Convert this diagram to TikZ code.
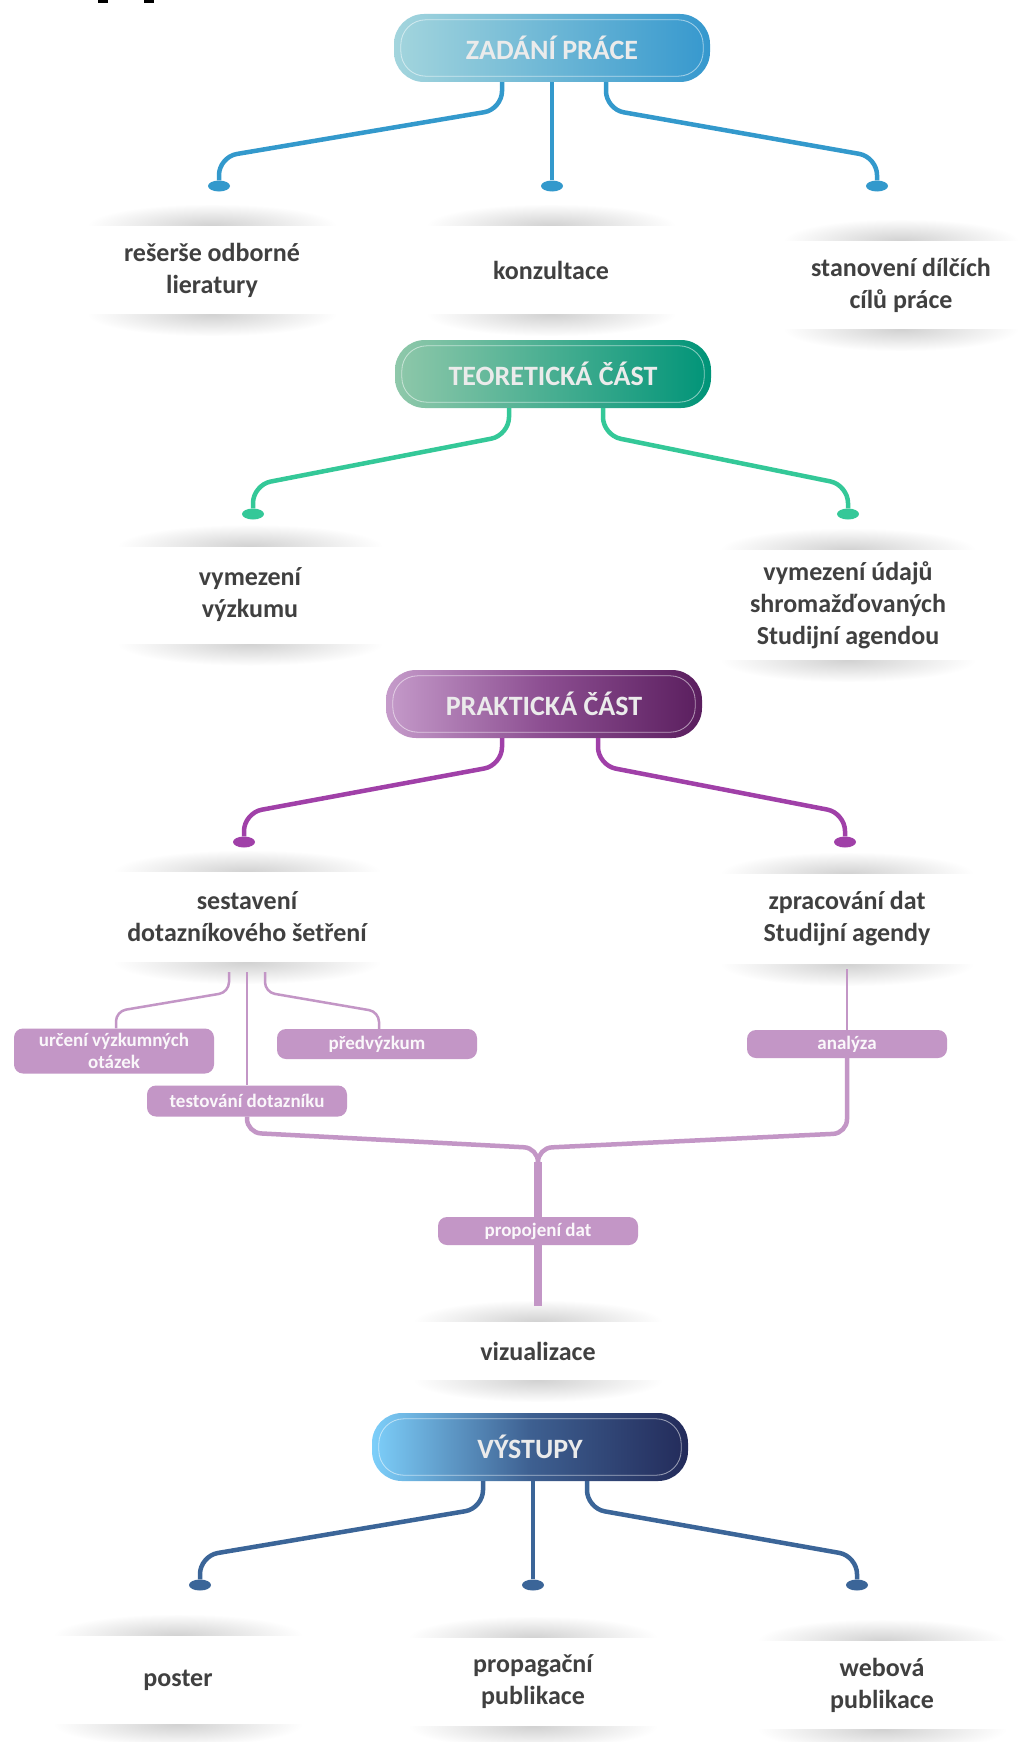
\documentclass[tikz,border=0pt]{standalone}
\usepackage{fontspec}
\setmainfont{Carlito}
\usetikzlibrary{shapes.geometric,calc,positioning,backgrounds}
\definecolor{zadA}{RGB}{163,213,221}
\definecolor{zadB}{RGB}{54,152,206}
\definecolor{zadL}{RGB}{51,153,204}
\definecolor{teoA}{RGB}{143,200,170}
\definecolor{teoB}{RGB}{0,148,120}
\definecolor{teoL}{RGB}{52,200,152}
\definecolor{praA}{RGB}{197,155,202}
\definecolor{praM}{RGB}{140,78,145}
\definecolor{praB}{RGB}{90,30,94}
\definecolor{praL}{RGB}{160,64,168}
\definecolor{vysA}{RGB}{125,207,250}
\definecolor{vysM}{RGB}{62,96,145}
\definecolor{vysB}{RGB}{35,43,90}
\definecolor{vysL}{RGB}{59,101,152}
\definecolor{subP}{RGB}{195,150,198}
\definecolor{txt}{RGB}{64,64,64}
\pgfdeclareradialshading{cardshadow}{\pgfpoint{0bp}{0bp}}{color(0bp)=(black!18); color(10bp)=(black!11); color(25bp)=(white); color(50bp)=(white)}

\begin{document}
\begin{tikzpicture}[x=1pt, y=-1pt,
  phase/.style={rounded corners=30, minimum width=316, minimum height=68, inner sep=0, text=white!92!black, font=\fontsize{28}{34}\selectfont\bfseries},
  card/.style={fill=white, minimum width=250, minimum height=88, inner sep=0, align=center, text=txt, font=\fontsize{26}{32}\selectfont\bfseries},
  task/.style={fill=subP, rounded corners=9, minimum width=200, minimum height=30, inner sep=0, align=center, text=white!92!subP, font=\fontsize{19}{22}\selectfont\bfseries},
  knob/.style={ellipse, minimum width=22, minimum height=11, inner sep=0},
  stem/.style={line width=4.5, rounded corners=18},
  twig/.style={subP, line width=2.5, rounded corners=10}]
\useasboundingbox (0,0) rectangle (1019,1742);
\fill[black] (98,0) rectangle (108,3);
\fill[black] (144,0) rectangle (154,3);

\node[phase, left color=zadA, right color=zadB] (zad) at (552,48) {ZADÁNÍ PRÁCE};
\node[phase, left color=teoA, right color=teoB] (teo) at (553,374) {TEORETICKÁ ČÁST};
\node[phase, left color=praA, right color=praB, middle color=praM] (pra) at (544,704) {PRAKTICKÁ ČÁST};
\node[phase, left color=vysA, right color=vysB, middle color=vysM] (vys) at (530,1447) {VÝSTUPY};
\foreach \h in {zad,teo,pra,vys}
  \draw[white, opacity=.55, line width=.8, rounded corners=25] ($(\h.south west)+(7,-6)$) rectangle ($(\h.north east)+(-7,6)$);

\node[card] (c11) at (212,270) {rešerše odborné\\lieratury};
\node[card] (c12) at (551,270) {konzultace};
\node[card, minimum width=236] (c13) at (901,285) {stanovení dílčích\\cílů práce};
\node[card, minimum width=266, minimum height=97] (c21) at (250,595) {vymezení\\výzkumu};
\node[card, minimum width=255, minimum height=110] (c22) at (848,605) {vymezení údajů\\shromažďovaných\\Studijní agendou};
\node[card, minimum width=269, minimum height=90] (c31) at (247,917) {sestavení\\dotazníkového šetření};
\node[card, minimum width=254, minimum height=90] (c32) at (847,919) {zpracování dat\\Studijní agendy};
\node[card, minimum height=58] (viz) at (538,1351) {vizualizace};
\node[card] (c41) at (178,1680) {poster};
\node[card] (c42) at (533,1682) {propagační\\publikace};
\node[card] (c43) at (882,1685) {webová\\publikace};

\begin{scope}[on background layer]
\fill[white] (0,0) rectangle (1019,1742);
\foreach \c/\w in {c11/125,c12/125,c13/118,c21/133,c22/128,c31/134,c32/127,viz/125,c41/125,c42/125,c43/125}{
  \shade[shading=cardshadow] (\c.north) ellipse [x radius=\w pt, y radius=22pt];
  \shade[shading=cardshadow] (\c.south) ellipse [x radius=\w pt, y radius=22pt];
}
\end{scope}

\node[knob, fill=zadL] (z1) at (219,186) {};
\node[knob, fill=zadL] (z2) at (552,186) {};
\node[knob, fill=zadL] (z3) at (877,186) {};
\node[knob, fill=teoL] (e1) at (253,514) {};
\node[knob, fill=teoL] (e2) at (848,514) {};
\node[knob, fill=praL] (p1) at (244,842) {};
\node[knob, fill=praL] (p2) at (845,842) {};
\node[knob, fill=vysL] (v1) at (200,1585) {};
\node[knob, fill=vysL] (v2) at (533,1585) {};
\node[knob, fill=vysL] (v3) at (857,1585) {};

\draw[stem, zadL] ($(zad.south)+(-50,0)$) -- ++(0,27) -- ($(z1)+(0,-29)$) -- (z1);
\draw[stem, zadL] (zad.south) -- (z2);
\draw[stem, zadL] ($(zad.south)+(54,0)$) -- ++(0,27) -- ($(z3)+(0,-29)$) -- (z3);
\draw[stem, teoL] ($(teo.south)+(-44,0)$) -- ++(0,27) -- ($(e1)+(0,-29)$) -- (e1);
\draw[stem, teoL] ($(teo.south)+(50,0)$) -- ++(0,27) -- ($(e2)+(0,-29)$) -- (e2);
\draw[stem, praL] ($(pra.south)+(-42,0)$) -- ++(0,27) -- ($(p1)+(0,-29)$) -- (p1);
\draw[stem, praL] ($(pra.south)+(54,0)$) -- ++(0,27) -- ($(p2)+(0,-29)$) -- (p2);
\draw[stem, vysL] ($(vys.south)+(-47,0)$) -- ++(0,27) -- ($(v1)+(0,-29)$) -- (v1);
\draw[stem, vysL] ($(vys.south)+(3,0)$) -- (v2);
\draw[stem, vysL] ($(vys.south)+(57,0)$) -- ++(0,27) -- ($(v3)+(0,-29)$) -- (v3);

\node[task, minimum height=45] (t1) at (114,1051) {určení výzkumných\\otázek};
\node[task] (t2) at (377,1044) {předvýzkum};
\node[task, minimum height=31] (t3) at (247,1101) {testování dotazníku};
\node[task, minimum height=28] (t4) at (847,1044) {analýza};
\node[task, minimum height=28] (t5) at (538,1231) {propojení dat};
\coordinate (mg) at (538,1162);

\draw[twig] ($(c31.south)+(-18,10)$) -- ++(0,20) -- ($(t1.north)+(2,-17)$) -- ($(t1.north)+(2,0)$);
\draw[twig] ($(c31.south)+(18,10)$) -- ++(0,20) -- ($(t2.north)+(2,-17)$) -- ($(t2.north)+(2,0)$);
\draw[twig] ($(c31.south)+(0,10)$) -- (t3.north);
\draw[twig] ($(c32.south)+(0,5)$) -- (t4.north);
\draw[twig, line width=4.5, rounded corners=14] (t3.south) -- ++(0,16) -- ($(mg)+(0,-14)$) -- (mg);
\draw[twig, line width=4.5, rounded corners=14] (t4.south) -- ++(0,75) -- ($(mg)+(0,-14)$) -- (mg);
\draw[subP, line width=8] (mg) -- (t5.north);
\draw[subP, line width=8] (t5.south) -- ($(viz.north)+(0,-16)$);
\end{tikzpicture}
\end{document}
